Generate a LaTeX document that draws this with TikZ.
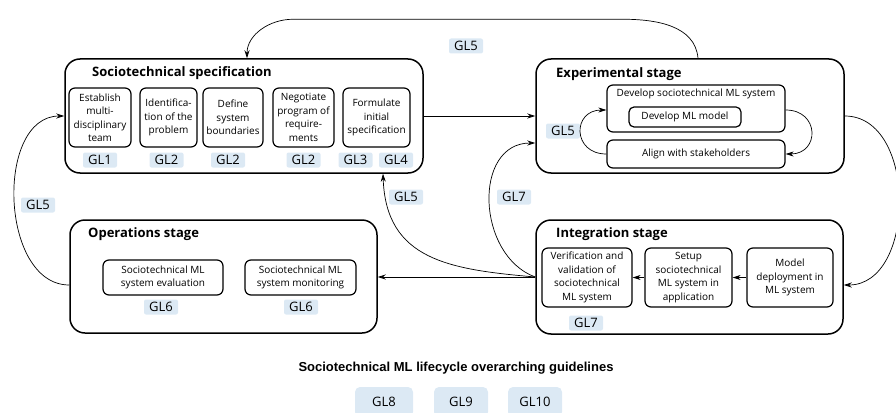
\documentclass[tikz,border=0pt]{standalone}
\usepackage{fontspec}
\setmainfont{Open Sans}
\newfontfamily\headfont{Liberation Sans}
\usetikzlibrary{arrows.meta}
\definecolor{glBlue}{RGB}{220,233,244}
\tikzstyle{stageBox}   = [rectangle,
                          rounded corners=15pt,
                          line width=1.5pt,
                          draw=black,
                          inner sep=0pt]
\tikzstyle{stageTitle} = [anchor=west,
                          inner sep=0pt,
                          font=\fontsize{13}{15}\selectfont\bfseries]
\tikzstyle{taskBox}    = [rectangle,
                          rounded corners=6pt,
                          line width=1.2pt,
                          draw=black,
                          align=center,
                          inner sep=0pt,
                          font=\fontsize{10}{13.5}\selectfont]
\tikzstyle{glTag}      = [rectangle,
                          rounded corners=2pt,
                          fill=glBlue,
                          minimum width=34pt,
                          minimum height=15pt,
                          inner sep=0pt,
                          font=\fontsize{13}{13}\selectfont]
\tikzstyle{glBig}      = [glTag,
                          rounded corners=5pt,
                          minimum height=30pt]
\tikzstyle{arrow}      = [line width=0.7pt, -{Stealth[length=8pt, width=5pt]}]

\begin{document}
\begin{tikzpicture}[x=1pt, y=1pt]
\useasboundingbox (0,-412) rectangle (896,0);
\clip (0,-412) rectangle (896,0);

% stages
\node [stageBox, minimum width=358pt, minimum height=114pt] (spec) at (244,-116) {};
\node [stageBox, minimum width=308pt, minimum height=114pt] (exp)  at (690,-116) {};
\node [stageBox, minimum width=307pt, minimum height=113pt] (ops)  at (223.5,-276.5) {};
\node [stageBox, minimum width=307pt, minimum height=114pt] (int)  at (689.5,-277) {};

\node [stageTitle] (specTitle) at ([shift={(-152,43)}] spec) {Sociotechnical specification};
\node [stageTitle] (expTitle)  at ([shift={(-134,42)}] exp) {Experimental stage};
\node [stageTitle] (opsTitle)  at ([shift={(-135.5,42.5)}] ops) {Operations stage};
\node [stageTitle] (intTitle)  at ([shift={(-133.5,43)}] int) {Integration stage};

% sociotechnical specification
\node [taskBox, minimum width=62pt, minimum height=59pt] (team)     at ([shift={(-144,-1.5)}] spec) {Establish\\multi-\\disciplinary\\team};
\node [taskBox, minimum width=57pt, minimum height=59pt] (problem)  at ([shift={(-75.5,-1.5)}] spec) {Identifica-\\tion of the\\problem};
\node [taskBox, minimum width=60pt, minimum height=59pt] (bounds)   at ([shift={(-11,-1.5)}] spec) {Define\\system\\boundaries};
\node [taskBox, minimum width=61pt, minimum height=59pt] (program)  at ([shift={(59.5,-1.5)}] spec) {Negotiate\\program of\\require-\\ments};
\node [taskBox, minimum width=67pt, minimum height=59pt] (initSpec) at ([shift={(132.5,-1.5)}] spec) {Formulate\\initial\\specification};

\node [glTag] (glTeam)    at ([shift={(-144,-44)}] spec) {GL1};
\node [glTag] (glProblem) at ([shift={(-77.5,-44)}] spec) {GL2};
\node [glTag] (glBounds)  at ([shift={(-16,-44)}] spec) {GL2};
\node [glTag] (glProgram) at ([shift={(59.5,-44)}] spec) {GL2};
\node [glTag] (glInitA)   at ([shift={(111.5,-44)}] spec) {GL3};
\node [glTag] (glInitB)   at ([shift={(152,-44)}] spec) {GL4};

% experimental stage
\node [taskBox, minimum width=178pt, minimum height=47pt,
       label={[below=1pt, font=\fontsize{10}{13.5}\selectfont]north:Develop sociotechnical ML system}] (devSys) at ([shift={(6,7.5)}] exp) {};
\node [taskBox, rounded corners=5pt, minimum width=112pt, minimum height=20pt] (devModel) at ([shift={(-5,-1)}] exp) {Develop ML model};
\node [taskBox, minimum width=178pt, minimum height=28pt] (align) at ([shift={(6,-38)}] exp) {Align with stakeholders};
\node [glTag] (glAlign) at ([shift={(-127,-15)}] exp) {GL5};

% operations stage
\node [taskBox, minimum width=120pt, minimum height=35pt] (evaluation) at ([shift={(-60.5,-1)}] ops) {Sociotechnical ML\\system evaluation};
\node [taskBox, minimum width=111pt, minimum height=35pt] (monitoring) at ([shift={(77,-1)}] ops) {Sociotechnical ML\\system monitoring};
\node [glTag] (glEval)    at ([shift={(-62.5,-30.5)}] ops) {GL6};
\node [glTag] (glMonitor) at ([shift={(77.5,-30.5)}] ops) {GL6};

% integration stage
\node [taskBox, minimum width=90pt, minimum height=59pt] (verif)  at ([shift={(-102.5,-0.5)}] int) {Verification and\\validation of\\sociotechnical\\ML system};
\node [taskBox, minimum width=87pt, minimum height=59pt] (setup)  at ([shift={(-1,-0.5)}] int) {Setup\\sociotechnical\\ML system in\\application};
\node [taskBox, minimum width=86pt, minimum height=59pt] (deploy) at ([shift={(100.5,-0.5)}] int) {Model\\deployment in\\ML system};
\node [glTag] (glVerif) at ([shift={(-103.5,-46)}] int) {GL7};

% connectors
\draw [arrow] (spec) -- (exp);
\draw [arrow] ([xshift=8pt] exp.north) to[out=95, in=0] ++(-75,39) -- ++(-330,0)
      to[out=180, in=90] ([xshift=3pt] spec.north);
\draw [arrow] (exp.east) to[out=0, in=0, looseness=1.1] ([yshift=-8pt] int.east);
\draw [arrow] ([yshift=-8.5pt] ops.west) to[out=180, in=180, looseness=1.05] (spec.west);
\draw [arrow] (int.west) -- (int.west -| ops.east);
\draw [arrow] (int.west) to[out=175, in=-88, looseness=1.2] ([xshift=139pt] spec.south);
\draw [arrow] (int.west) to[out=160, in=180, looseness=1.2] ([yshift=-27pt] exp.west);

\draw [arrow] (align.west) to[out=180, in=180, looseness=2] ([yshift=-1.5pt] devSys.west);
\draw [arrow] ([yshift=-1.5pt] devSys.east) to[out=0, in=0, looseness=2] (align.east);
\draw [arrow] (setup) -- (verif);
\draw [arrow] (deploy) -- (setup);

\node [glTag] (glTop)   at (466,-46) {GL5};
\node [glTag] (glLeft)  at (38,-205) {GL5};
\node [glTag] (glSpec)  at (406,-197) {GL5};
\node [glTag] (glExp)   at (514,-197) {GL7};

% overarching guidelines
\node [font=\headfont\fontsize{13}{15}\selectfont\bfseries] (overTitle) at (456,-368) {Sociotechnical ML lifecycle overarching guidelines};
\node [glBig, minimum width=58pt] (gl8)  at (384,-402) {GL8};
\node [glBig, minimum width=54pt] (gl9)  at (461,-402) {GL9};
\node [glBig, minimum width=54pt] (gl10) at (535,-402) {GL10};
\end{tikzpicture}
\end{document}
